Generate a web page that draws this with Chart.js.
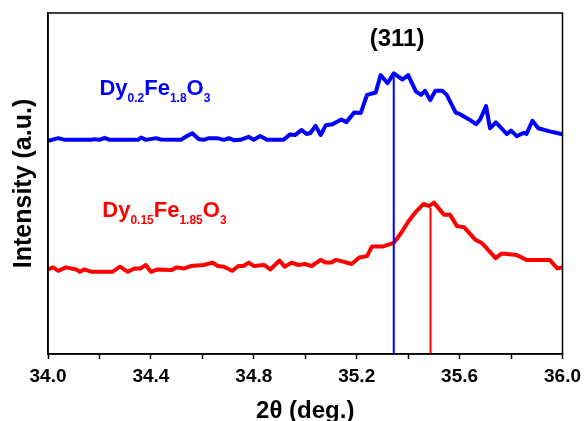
<!DOCTYPE html>
<html>
<head>
<meta charset="utf-8">
<script src="https://cdn.jsdelivr.net/npm/chart.js@4/dist/chart.umd.min.js"></script>
<style>
  body { margin: 0; background: #fff; }
  #wrap { width: 587px; height: 421px; }
</style>
</head>
<body>
<div id="wrap"><canvas id="xrd"></canvas></div>
<script>
// ===== DADOS =====
// Dy0.2Fe1.8O3 (curva azul)
let azulX = [34.001,34.04,34.066,34.169,34.18,34.20,34.22,34.24,34.35,34.362,34.381,34.42,34.439,34.516,34.542,34.561,34.587,34.606,34.625,34.658,34.683,34.703,34.722,34.748,34.78,34.80,34.825,34.851,34.915,34.941,34.96,34.986,
  35.005,35.02,35.04,35.06,35.08,35.106,35.14,35.16,35.19,35.216,35.24,35.274,35.293,35.32,35.344,35.378,35.40,35.43,35.45,35.465,35.486,35.506,35.533,35.55,35.585,35.60,35.637,35.664,35.68,35.703,35.718,35.741,35.784,35.80,35.822,35.85,35.86,35.883,35.906,35.95,35.996];
let azulY = [62.5,63.3,62.8,62.8,63.0,62.8,63.4,62.8,62.8,63.5,62.8,63.3,62.9,62.8,64.0,64.7,63.0,62.8,63.3,63.3,62.8,63.3,62.7,62.8,63.7,62.8,63.9,62.8,62.8,64.4,64.2,65.7,
  64.5,64.8,66.9,64.2,67.1,67.4,68.8,68.0,70.8,70.7,76.0,76.7,81.8,79.4,82.3,80.5,81.8,77.0,76.0,77.2,74.5,77.2,77.2,76.0,70.8,70.4,68.8,67.4,68.8,72.7,66.2,67.9,64.5,65.5,63.9,64.9,64.5,68.4,66.2,65.3,64.5];

// Dy0.15Fe1.85O3 (curva vermelha)
let vermX = [34.0,34.02,34.04,34.07,34.11,34.124,34.14,34.17,34.25,34.28,34.31,34.336,34.36,34.38,34.40,34.426,34.48,34.50,34.53,34.555,34.606,34.64,34.66,34.683,34.716,34.74,34.76,34.78,34.80,34.84,34.864,34.90,34.92,34.947,34.973,
  34.999,35.025,35.06,35.08,35.10,35.12,35.147,35.18,35.21,35.24,35.259,35.30,35.344,35.372,35.40,35.43,35.46,35.482,35.50,35.54,35.563,35.59,35.617,35.66,35.687,35.74,35.764,35.822,35.86,35.95,35.98,36.0];
let vermY = [24.8,25.4,24.4,25.4,24.8,24.1,24.8,24.1,24.1,25.6,24.1,25.1,25.1,26.1,24.1,24.8,24.6,25.4,25.1,25.8,26.1,26.8,25.8,25.6,24.4,25.8,25.8,26.8,25.8,26.1,24.8,27.4,25.6,26.8,26.1,
  26.4,25.8,27.6,26.8,26.8,27.6,27.1,26.4,28.3,28.7,31.5,31.5,32.6,35.4,38.8,41.7,44.0,43.4,44.4,40.8,40.8,37.5,37.2,33.6,32.5,28.1,29.5,29.0,27.6,27.6,25.1,25.4];

// picos (311)
let picoX = [35.344, 35.487];
let picoTopo = [81.5, 42.8];

// eixo x
let xMin = 34.0, xMax = 36.0, xPasso = 0.2;

function pares(xs, ys){ return xs.map((x,i)=>({x, y: ys[i]})); }

const FONTE = "Arial, 'Liberation Sans', sans-serif";

// ===== TEXTOS E MOLDURA =====
const textos = {
  id: "textos",
  afterDraw(chart){
    const {ctx, chartArea: a, scales: {x, y}} = chart;
    ctx.save();
    // moldura
    ctx.strokeStyle = "#000";
    ctx.lineWidth = 1.5;
    ctx.strokeRect(a.left, a.top, a.right - a.left, a.bottom - a.top);

    // (311)
    ctx.fillStyle = "#000";
    ctx.font = "bold 24px " + FONTE;
    ctx.textAlign = "center";
    ctx.textBaseline = "middle";
    ctx.fillText("(311)", x.getPixelForValue(35.357), y.getPixelForValue(92.4));

    // formulas com subscrito
    function formula(partes, vx, vy, cor){
      let px = x.getPixelForValue(vx), py = y.getPixelForValue(vy);
      ctx.fillStyle = cor;
      ctx.textAlign = "left";
      ctx.textBaseline = "alphabetic";
      partes.forEach(([t, sub])=>{
        ctx.font = sub ? "bold 12px " + FONTE : "bold 22px " + FONTE;
        ctx.fillText(t, px, sub ? py + 7 : py);
        px += ctx.measureText(t).width;
      });
    }
    formula([["Dy",0],["0.2",1],["Fe",0],["1.8",1],["O",0],["3",1]], 34.20, 76.0, "#0000ff");
    formula([["Dy",0],["0.15",1],["Fe",0],["1.85",1],["O",0],["3",1]], 34.211, 40.1, "#ff0000");
    ctx.restore();
  }
};

// ===== GRAFICO =====
new Chart(document.getElementById("xrd"), {
  type: "scatter",
  data: {
    datasets: [
      { data: [{x: picoX[0], y: 0}, {x: picoX[0], y: picoTopo[0]}], showLine: true, borderColor: "#0000ff", borderWidth: 2, pointRadius: 0 },
      { data: [{x: picoX[1], y: 0}, {x: picoX[1], y: picoTopo[1]}], showLine: true, borderColor: "#ff0000", borderWidth: 2, pointRadius: 0 },
      { data: pares(azulX, azulY), showLine: true, borderColor: "#0000ff", borderWidth: 4, borderJoinStyle: "round", borderCapStyle: "round", pointRadius: 0, tension: 0 },
      { data: pares(vermX, vermY), showLine: true, borderColor: "#ff0000", borderWidth: 4, borderJoinStyle: "round", borderCapStyle: "round", pointRadius: 0, tension: 0 }
    ]
  },
  options: {
    responsive: true,
    maintainAspectRatio: false,
    animation: false,
    layout: { padding: { left: 0, top: 13, right: 21, bottom: 0 } },
    plugins: { legend: { display: false }, tooltip: { enabled: false } },
    scales: {
      x: {
        type: "linear",
        min: xMin, max: xMax,
        afterFit: s => { s.height = 67; },
        border: { display: true, color: "#000", width: 1.5 },
        grid: { display: true, drawOnChartArea: false, drawTicks: true, tickLength: 5, tickColor: "#000", tickWidth: 1.5 },
        ticks: {
          stepSize: xPasso,
          padding: 6,
          color: "#000",
          font: { family: FONTE, size: 19, weight: "bold" },
          maxRotation: 0,
          autoSkip: false,
          callback: (v, i) => (i % 2 === 0 ? Number(v).toFixed(1) : "")
        },
        title: {
          display: true,
          text: "2θ (deg.)",
          color: "#000",
          font: { family: FONTE, size: 24, weight: "bold", lineHeight: 0.8 },
          padding: { top: 0, bottom: 0 }
        }
      },
      y: {
        min: 0, max: 100,
        afterFit: s => { s.width = 48; },
        border: { display: true, color: "#000", width: 1.5 },
        grid: { display: false },
        ticks: { display: false },
        title: {
          display: true,
          text: "Intensity (a.u.)",
          color: "#000",
          font: { family: FONTE, size: 25, weight: "bold" },
          padding: { top: 9, bottom: 0 }
        }
      }
    }
  },
  plugins: [textos]
});
</script>
</body>
</html>
